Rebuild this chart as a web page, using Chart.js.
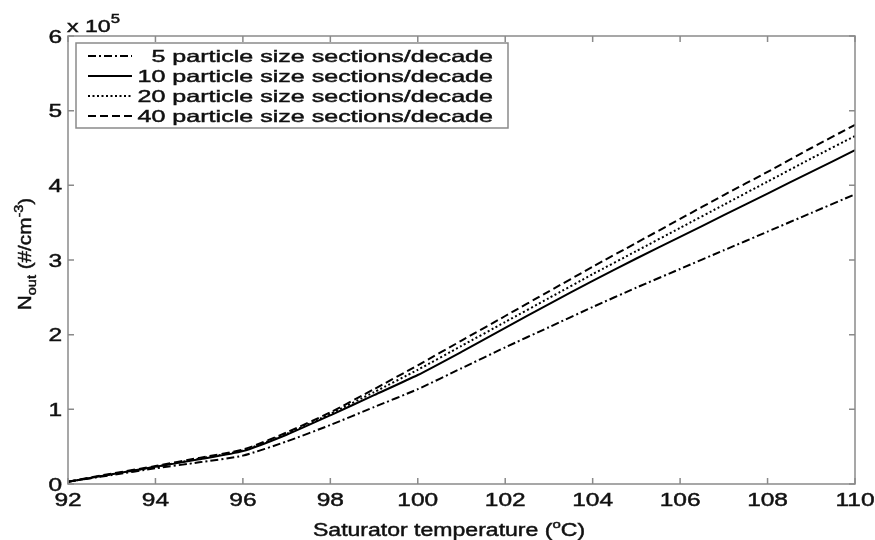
<!DOCTYPE html>
<html>
<head>
<meta charset="utf-8">
<script src="https://cdn.jsdelivr.net/npm/chart.js@4.4.0/dist/chart.umd.min.js"></script>
<style>
  body { margin: 0; background: #fff; }
  #wrap { width: 875px; height: 540px; }
</style>
</head>
<body>
<div id="wrap"><canvas id="chart"></canvas></div>
<script>

// Saturator temperature (deg C)
var temps = [92, 93, 94, 95, 96, 97, 98, 99, 100, 101, 102, 103, 104, 105, 106, 107, 108, 109, 110];

// N_out, in units of 1e5 #/cm3, one array per number of size sections/decade
var n5  = [0.03, 0.12, 0.21, 0.29, 0.38, 0.57, 0.79, 1.03, 1.27, 1.55, 1.83, 2.10, 2.37, 2.63, 2.88, 3.13, 3.38, 3.63, 3.88];
var n10 = [0.03, 0.13, 0.23, 0.33, 0.44, 0.66, 0.92, 1.19, 1.46, 1.77, 2.09, 2.41, 2.72, 3.02, 3.31, 3.60, 3.89, 4.18, 4.47];
var n20 = [0.03, 0.13, 0.23, 0.34, 0.45, 0.67, 0.94, 1.23, 1.53, 1.85, 2.17, 2.49, 2.81, 3.12, 3.43, 3.74, 4.05, 4.36, 4.66];
var n40 = [0.03, 0.14, 0.24, 0.35, 0.46, 0.69, 0.96, 1.27, 1.59, 1.92, 2.25, 2.58, 2.91, 3.23, 3.55, 3.87, 4.18, 4.50, 4.81];

var seriesLabels = [
	' 5 particle size sections/decade',
	'10 particle size sections/decade',
	'20 particle size sections/decade',
	'40 particle size sections/decade'
];

var xTicks = [92, 94, 96, 98, 100, 102, 104, 106, 108, 110];
var yTicks = [0, 1, 2, 3, 4, 5, 6];

var FONT = "'Liberation Sans', Arial, sans-serif";
var SX = 1.36; // the original picture is stretched sideways

function points(values) {
	return temps.map((t, i) => ({ x: t, y: values[i] }));
}

// Draw text made of pieces (for sub/superscripts), stretched sideways by sx
function richText(ctx, segs, x, y, size, align, sx) {
	ctx.save();
	ctx.translate(x, y);
	ctx.scale(sx, 1);
	var w = 0;
	segs.forEach(s => {
		ctx.font = (size * (s.k || 1)) + 'px ' + FONT;
		w += ctx.measureText(s.t).width;
	});
	var cx = align === 'center' ? -w / 2 : (align === 'right' ? -w : 0);
	ctx.textAlign = 'left';
	ctx.textBaseline = 'alphabetic';
	ctx.strokeStyle = ctx.fillStyle;
	ctx.lineWidth = 0.45;
	ctx.setLineDash([]);
	segs.forEach(s => {
		ctx.font = (size * (s.k || 1)) + 'px ' + FONT;
		ctx.fillText(s.t, cx, (s.dy || 0) * size);
		// thicken a little, the scan is heavier than a plain font
		ctx.strokeText(s.t, cx, (s.dy || 0) * size);
		cx += ctx.measureText(s.t).width;
	});
	ctx.restore();
}

var matlabAxes = {
	id: 'matlabAxes',
	afterDraw: function (chart) {
		var ctx = chart.ctx;
		var a = chart.chartArea;
		var xs = chart.scales.x, ys = chart.scales.y;
		var tick = 6;

		ctx.save();
		ctx.fillStyle = '#111';

		// Frame and inward ticks
		ctx.strokeStyle = '#8a8a8a';
		ctx.lineWidth = 1.5;
		ctx.setLineDash([]);
		ctx.strokeRect(a.left, a.top, a.right - a.left, a.bottom - a.top);
		ctx.beginPath();
		xTicks.forEach(v => {
			var px = xs.getPixelForValue(v);
			ctx.moveTo(px, a.bottom); ctx.lineTo(px, a.bottom - tick);
			ctx.moveTo(px, a.top); ctx.lineTo(px, a.top + tick);
		});
		yTicks.forEach(v => {
			var py = ys.getPixelForValue(v);
			ctx.moveTo(a.left, py); ctx.lineTo(a.left + tick, py);
			ctx.moveTo(a.right, py); ctx.lineTo(a.right - tick, py);
		});
		ctx.stroke();

		// Tick labels
		xTicks.forEach(v => {
			richText(ctx, [{ t: String(v) }], xs.getPixelForValue(v), a.bottom + 22, 18, 'center', SX);
		});
		yTicks.forEach(v => {
			richText(ctx, [{ t: String(v) }], a.left - 6, ys.getPixelForValue(v) + 6.5, 18, 'right', SX);
		});

		// Exponent
		richText(ctx, [{ t: 'x 10' }, { t: '5', k: 0.72, dy: -0.55 }], a.left - 1, 32, 17, 'left', SX);

		// Axis titles
		richText(ctx, [
			{ t: 'Saturator temperature (' },
			{ t: 'o', k: 0.65, dy: -0.42 },
			{ t: 'C)' }
		], 449, 536, 18, 'center', 1.28);

		ctx.save();
		ctx.translate(31, 254);
		ctx.rotate(-Math.PI / 2);
		richText(ctx, [
			{ t: 'N' },
			{ t: 'out', k: 0.7, dy: 0.3 },
			{ t: ' (#/cm' },
			{ t: '-3', k: 0.7, dy: -0.42 },
			{ t: ')' }
		], 0, 0, 18, 'center', 1.15);
		ctx.restore();

		// Legend box
		ctx.fillStyle = '#fff';
		ctx.fillRect(76, 43, 432, 85);
		ctx.strokeStyle = '#8a8a8a';
		ctx.lineWidth = 1.5;
		ctx.strokeRect(76, 43, 432, 85);
		ctx.fillStyle = '#111';
		chart.data.datasets.forEach((ds, i) => {
			var y = 56 + i * 20;
			ctx.strokeStyle = ds.borderColor;
			ctx.lineWidth = ds.borderWidth;
			ctx.setLineDash(ds.borderDash || []);
			ctx.beginPath();
			ctx.moveTo(88, y);
			ctx.lineTo(132, y);
			ctx.stroke();
			richText(ctx, [{ t: ds.label }], 493, y + 6, 16.5, 'right', 1.52);
		});
		ctx.setLineDash([]);
		ctx.restore();
	}
};

function series(label, values, dash) {
	return {
		label: label,
		data: points(values),
		borderColor: '#000',
		borderWidth: 2,
		borderDash: dash,
		pointRadius: 0,
		tension: 0.2,
		fill: false
	};
}

new Chart(document.getElementById('chart').getContext('2d'), {
	type: 'line',
	data: {
		datasets: [
			series(seriesLabels[0], n5, [8, 3, 2, 3]),
			series(seriesLabels[1], n10, []),
			series(seriesLabels[2], n20, [2, 2.5]),
			series(seriesLabels[3], n40, [8, 4])
		]
	},
	options: {
		responsive: true,
		maintainAspectRatio: false,
		animation: false,
		layout: { padding: { top: 36, right: 20, left: 0, bottom: 0 } },
		plugins: {
			legend: { display: false },
			tooltip: { enabled: false }
		},
		scales: {
			x: {
				type: 'linear',
				min: 92,
				max: 110,
				grid: { display: false, drawTicks: false },
				border: { display: false },
				ticks: { display: false },
				afterFit: function (scale) { scale.height = 56; }
			},
			y: {
				min: 0,
				max: 6,
				grid: { display: false, drawTicks: false },
				border: { display: false },
				ticks: { display: false },
				afterFit: function (scale) { scale.width = 68; }
			}
		}
	},
	plugins: [matlabAxes]
});
</script>
</body>
</html>
